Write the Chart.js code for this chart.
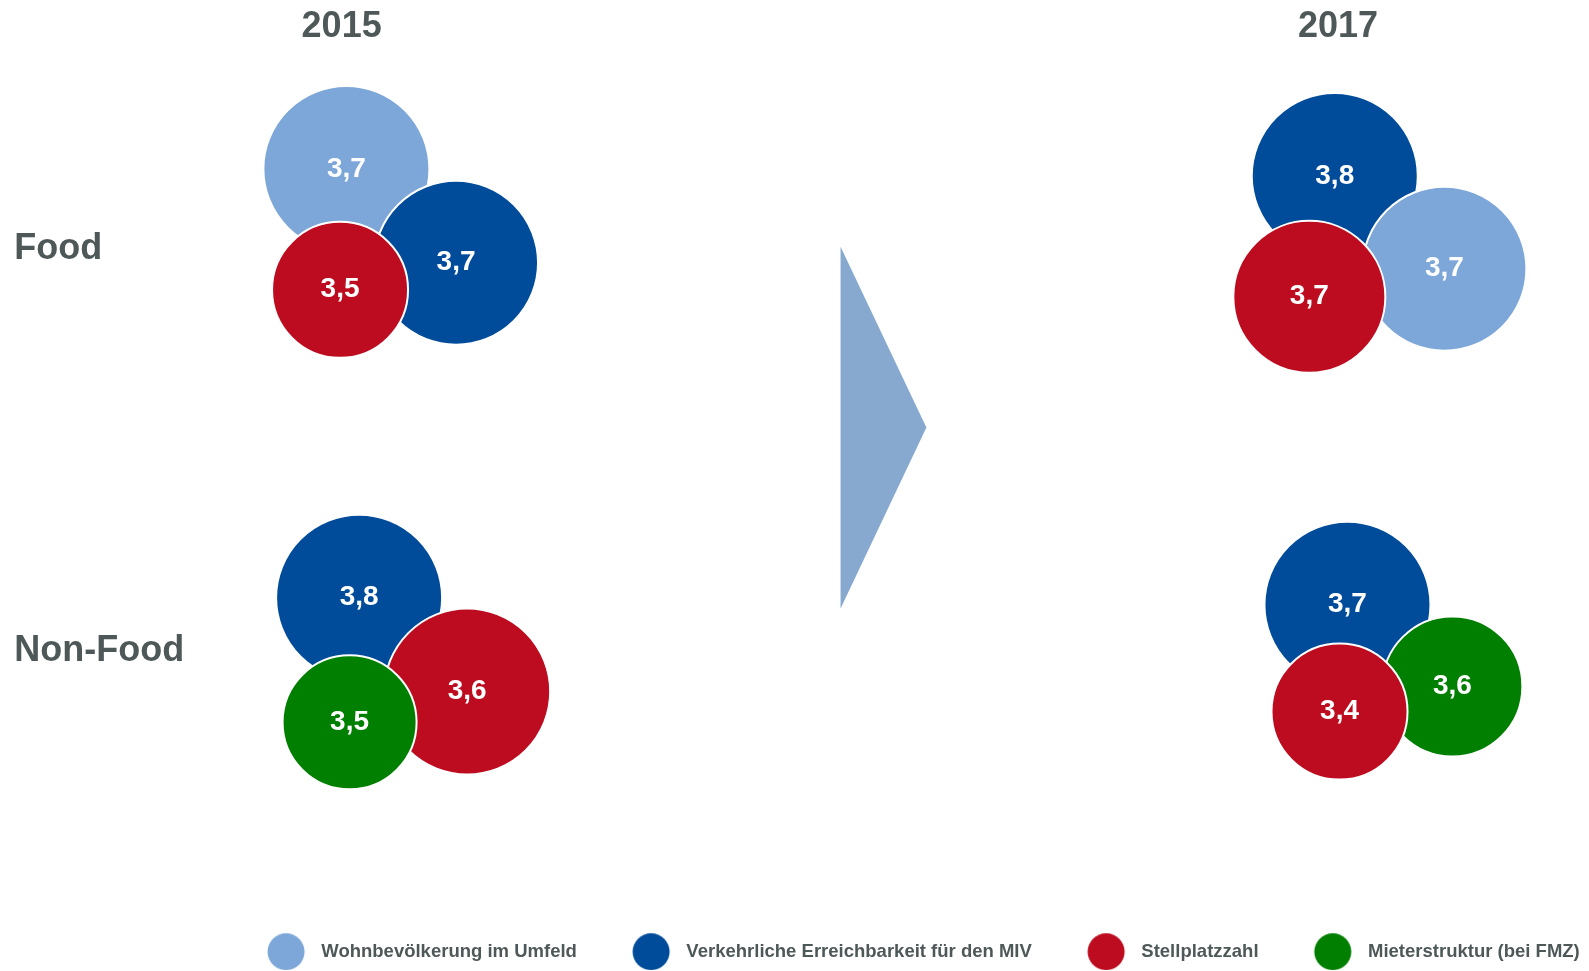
<!DOCTYPE html>
<html lang="de">
<head>
<meta charset="utf-8">
<title>Standortfaktoren 2015 / 2017</title>
<script src="https://cdn.jsdelivr.net/npm/chart.js@4.4.1/dist/chart.umd.min.js"></script>
<style>
  html, body { margin: 0; padding: 0; background: #fff; }
  #wrap { width: 1589px; height: 971px; position: relative; }
</style>
</head>
<body>
<div id="wrap"><canvas id="chart"></canvas></div>
<script>
const years = ['2015', '2017'];
const segments = ['Food', 'Non-Food'];
const seriesNames = [
  'Wohnbevölkerung im Umfeld',
  'Verkehrliche Erreichbarkeit für den MIV',
  'Stellplatzzahl',
  'Mieterstruktur (bei FMZ)'
];

// average rating per criterion, null = not asked in that segment
const food2015 = [3.7, 3.7, 3.5, null];
const food2017 = [3.7, 3.8, 3.7, null];
const nonFood2015 = [null, 3.8, 3.6, 3.5];
const nonFood2017 = [null, 3.7, 3.4, 3.6];

// --- layout (chart units 0..100 on both axes) ---
const seriesColors = ['#7da7d8', '#004c9b', '#bd0b1f', '#007f00'];
const textColor = '#4f5859';
const font = '"Liberation Sans", Arial, sans-serif';

// bubble position, radius and stacking order (back to front) per group
const groups = [
  { values: food2015, x: [21.8, 28.7, 21.4, null], y: [81.9, 71.85, 68.95, null], r: [83, 82, 68, null], stack: [0, 1, 2] },
  { values: food2017, x: [90.9, 84.0, 82.4, null], y: [71.2, 81.15, 68.2, null], r: [82, 83, 76, null], stack: [1, 0, 2] },
  { values: nonFood2015, x: [null, 22.6, 29.4, 22.0], y: [null, 35.95, 25.9, 22.6], r: [null, 83, 83, 67], stack: [1, 2, 3] },
  { values: nonFood2017, x: [null, 84.8, 84.3, 91.4], y: [null, 35.2, 23.75, 26.45], r: [null, 83, 68, 70], stack: [1, 3, 2] }
];
const yearX = [21.5, 84.2];
const yearY = 96.04;
const segmentX = 0.9;
const segmentY = [72.27, 29.12];
const arrow = { left: 52.9, tip: 58.3, top: 73.55, mid: 54.18, bottom: 34.8, color: '#87a9cf' };

const points = [];
const colors = [];
groups.forEach(g => {
  g.stack.forEach(s => {
    points.push({ x: g.x[s], y: g.y[s], r: g.r[s], v: g.values[s] });
    colors.push(seriesColors[s]);
  });
});

function legendDot(color) {
  const c = document.createElement('canvas');
  c.width = 91;
  c.height = 37;
  const g = c.getContext('2d');
  g.fillStyle = color;
  g.beginPath();
  g.arc(65, 18.5, 18.5, 0, Math.PI * 2);
  g.fill();
  return c;
}

const decor = {
  id: 'decor',
  beforeDatasetsDraw(chart) {
    const { ctx, scales: { x, y } } = chart;
    ctx.save();
    ctx.fillStyle = arrow.color;
    ctx.beginPath();
    ctx.moveTo(x.getPixelForValue(arrow.left), y.getPixelForValue(arrow.top));
    ctx.lineTo(x.getPixelForValue(arrow.tip), y.getPixelForValue(arrow.mid));
    ctx.lineTo(x.getPixelForValue(arrow.left), y.getPixelForValue(arrow.bottom));
    ctx.closePath();
    ctx.fill();
    ctx.restore();
  },
  afterDatasetsDraw(chart) {
    const { ctx, scales: { x, y } } = chart;
    ctx.save();
    ctx.fillStyle = '#fff';
    ctx.font = 'bold 28px ' + font;
    ctx.textAlign = 'center';
    ctx.textBaseline = 'middle';
    chart.getDatasetMeta(0).data.forEach((el, i) => {
      ctx.fillText(points[i].v.toFixed(1).replace('.', ','), el.x, el.y);
    });

    ctx.fillStyle = textColor;
    ctx.font = 'bold 36px ' + font;
    ctx.textBaseline = 'alphabetic';
    years.forEach((yr, i) => {
      ctx.fillText(yr, x.getPixelForValue(yearX[i]), y.getPixelForValue(yearY));
    });
    ctx.textAlign = 'left';
    segments.forEach((s, i) => {
      ctx.fillText(s, x.getPixelForValue(segmentX), y.getPixelForValue(segmentY[i]));
    });
    ctx.restore();
  }
};

new Chart(document.getElementById('chart'), {
  type: 'bubble',
  data: {
    datasets: [{
      data: points,
      backgroundColor: colors,
      borderColor: '#fff',
      borderWidth: 2
    }]
  },
  options: {
    responsive: true,
    maintainAspectRatio: false,
    animation: false,
    events: [],
    layout: { autoPadding: false, padding: 0 },
    scales: {
      x: { type: 'linear', min: 0, max: 100, display: false },
      y: { type: 'linear', min: 0, max: 100, display: false }
    },
    plugins: {
      tooltip: { enabled: false },
      legend: {
        position: 'bottom',
        align: 'end',
        labels: {
          usePointStyle: true,
          pointStyleWidth: 91,
          padding: 9.25,
          color: textColor,
          font: { family: font, size: 18.5, weight: 'bold' },
          generateLabels: () => seriesNames.map((name, i) => ({
            text: name,
            fillStyle: seriesColors[i],
            strokeStyle: seriesColors[i],
            lineWidth: 0,
            pointStyle: legendDot(seriesColors[i]),
            fontColor: textColor,
            hidden: false,
            datasetIndex: 0
          }))
        }
      }
    }
  },
  plugins: [decor]
});
</script>
</body>
</html>
